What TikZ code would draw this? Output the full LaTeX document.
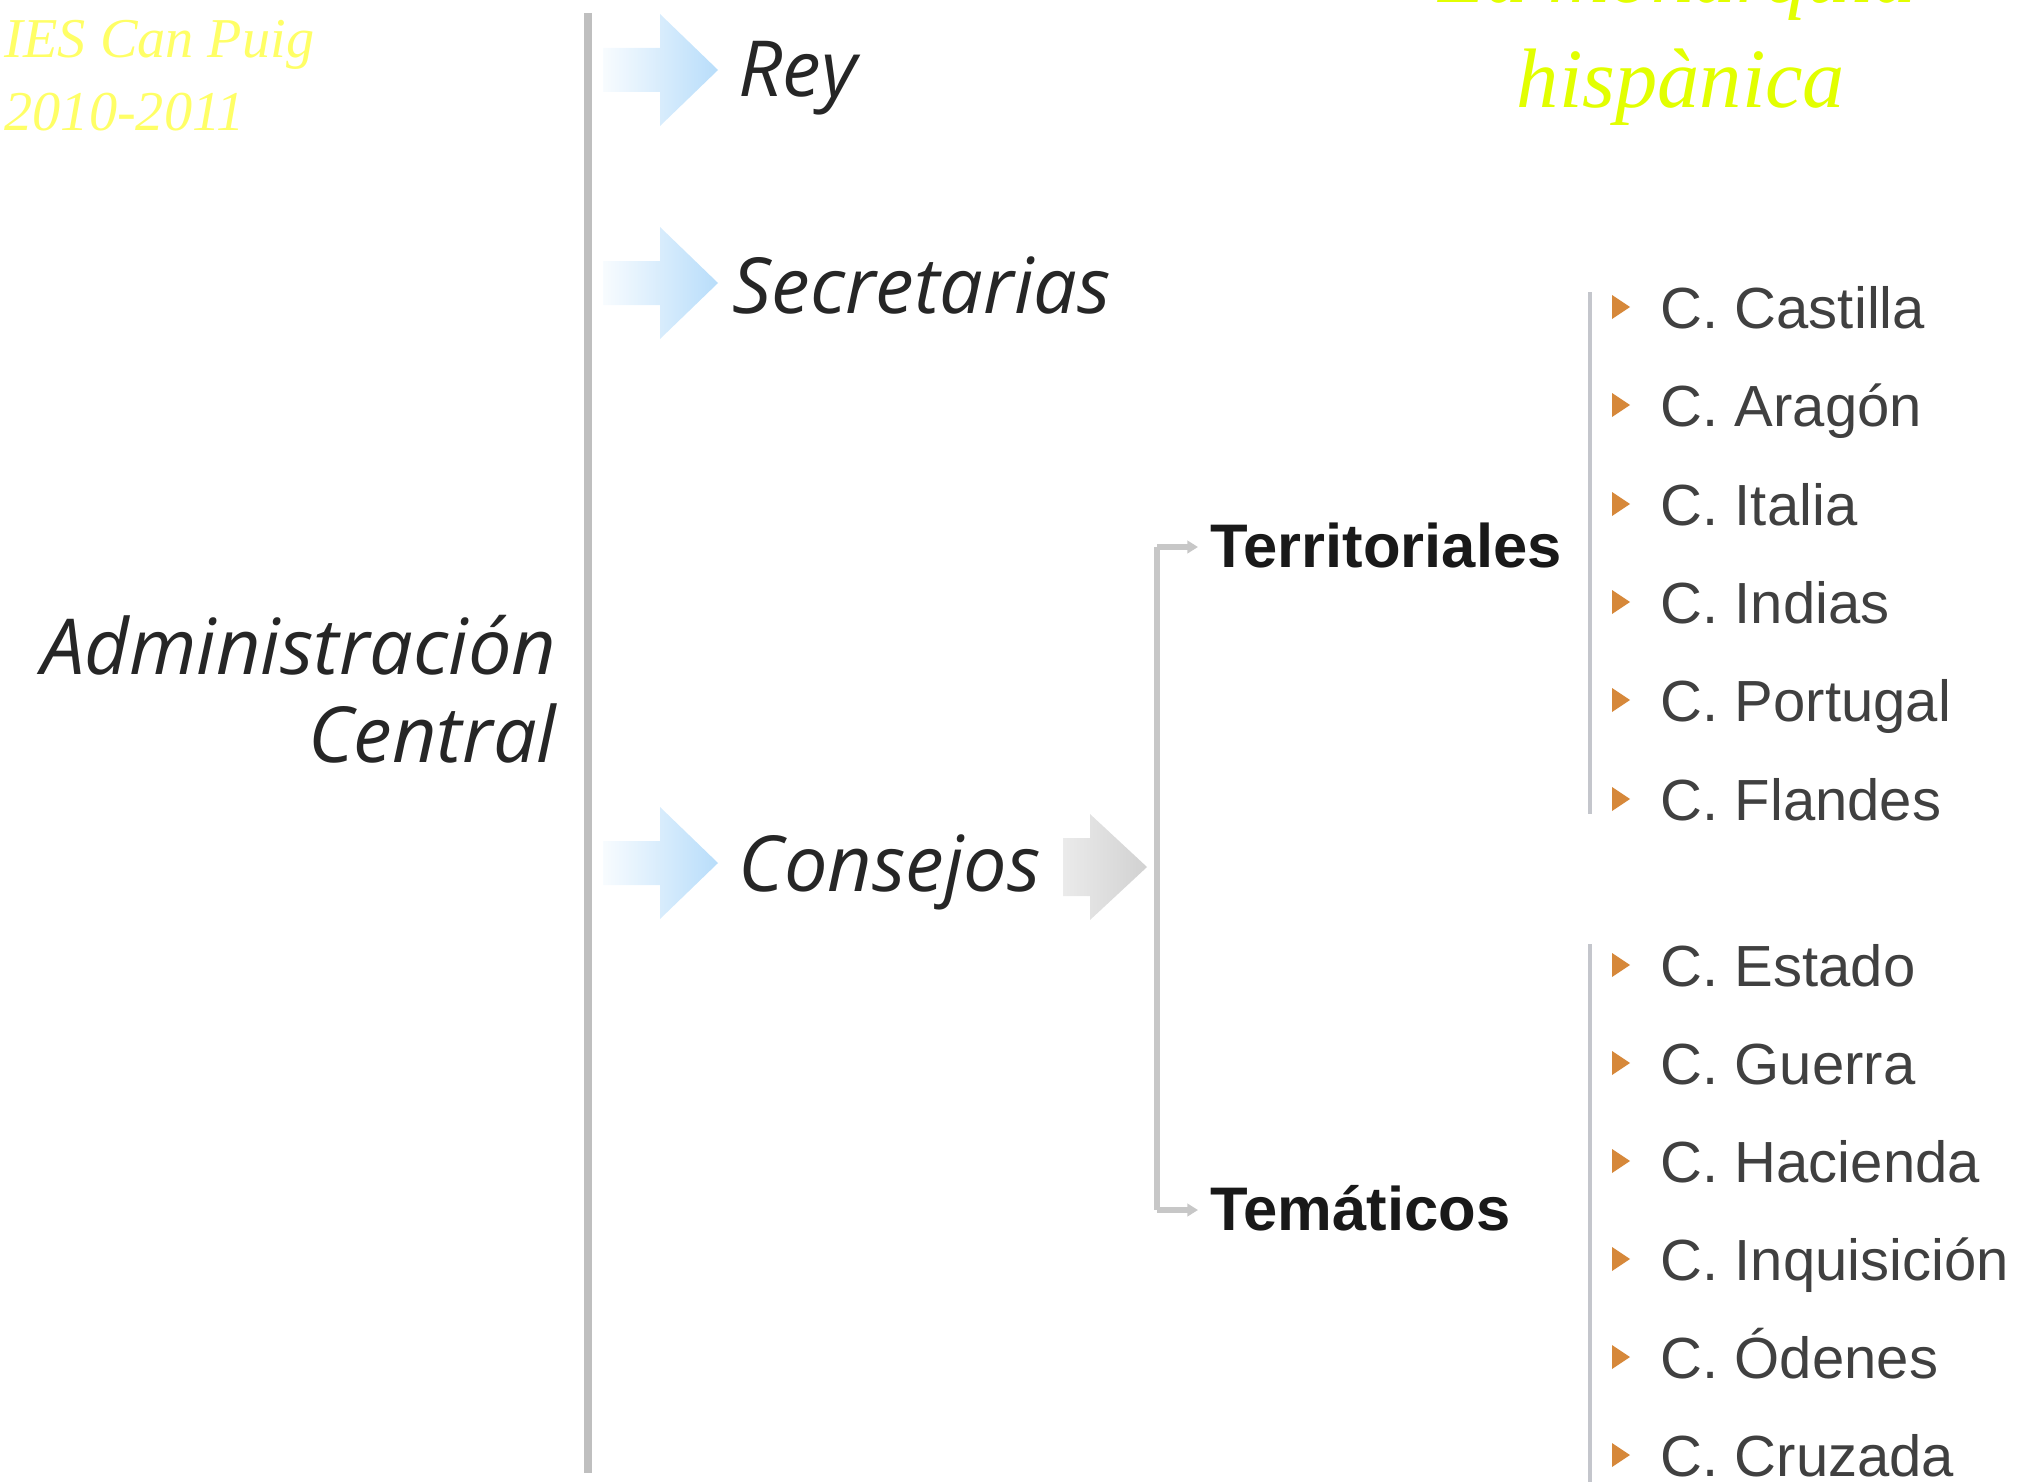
\documentclass[tikz,border=0pt]{standalone}
\usepackage{fontspec}
\setmainfont{Liberation Sans}
\newfontfamily\serifit{Liberation Serif}
\newfontfamily\handit{Open Sans}
\usetikzlibrary{arrows.meta}

\definecolor{iesyellow}{RGB}{255,255,102}
\definecolor{titlegreen}{RGB}{226,255,0}
\definecolor{arrowblue}{RGB}{184,221,250}
\definecolor{bulletorange}{RGB}{214,136,58}
\definecolor{listgray}{RGB}{196,198,204}

\begin{document}
\begin{tikzpicture}[x=0.01cm, y=-0.01cm,
		corner/.style={anchor=base west, inner sep=0pt, text=iesyellow, font=\serifit\itshape\fontsize{16}{20}\selectfont},
		title/.style={anchor=base, inner sep=0pt, text=titlegreen, font=\serifit\itshape\fontsize{24}{30}\selectfont},
		level/.style={inner sep=0pt, text=black!85, font=\handit\itshape\fontsize{22}{26}\selectfont},
		group/.style={anchor=base west, text=black!90, font=\bfseries\fontsize{17.5}{21}\selectfont},
		consejo/.style={anchor=base west, inner sep=0pt, text=black!75, font=\fontsize{16.5}{20}\selectfont},
		bullet/.style={fill=bulletorange},
		blueshade/.style={left color=arrowblue!10, right color=arrowblue},
		grayshade/.style={left color=black!8, right color=black!18},
		mainline/.style={draw=black!25, line width=2pt},
		bracket/.style={draw=black!22, line width=1.6pt},
		listline/.style={draw=listgray, line width=1.2pt}]
		\useasboundingbox (0, 0) rectangle (2031, 1482);

		% corner and title
		\node [corner] (ies) at (4, 58) {IES Can Puig};
		\node [corner] (year) at (4, 131) {2010-2011};
		\node [title] (tit1) at (1677, 3) {La monarquía};
		\node [title] (tit2) at (1681, 108) {hispànica};

		% left side
		\coordinate (top) at (588, 13);
		\coordinate (bottom) at (588, 1473);
		\draw [mainline] (top) -- (bottom);

		\node [level, anchor=base east] (adm1) at (557, 674) {Administración};
		\node [level, anchor=base east] (adm2) at (557, 762) {Central};

		\coordinate (a1) at (603, 70);
		\coordinate (a2) at (603, 283);
		\coordinate (a3) at (603, 863);
		\shade [blueshade] (a1) ++(0, -22) -- ++(57, 0) -- ++(0, -34) -- ++(58, 56) -- ++(-58, 56) -- ++(0, -34) -- ++(-57, 0) -- cycle;
		\shade [blueshade] (a2) ++(0, -22) -- ++(57, 0) -- ++(0, -34) -- ++(58, 56) -- ++(-58, 56) -- ++(0, -34) -- ++(-57, 0) -- cycle;
		\shade [blueshade] (a3) ++(0, -22) -- ++(57, 0) -- ++(0, -34) -- ++(58, 56) -- ++(-58, 56) -- ++(0, -34) -- ++(-57, 0) -- cycle;

		\node [level, anchor=base west] (rey) at (738, 97) {Rey};
		\node [level, anchor=base west] (sec) at (732, 313) {Secretarias};
		\node [level, anchor=base west] (cons) at (738, 891) {Consejos};

		\coordinate (g) at (1063, 867);
		\shade [grayshade] (g) ++(0, -29) -- ++(27, 0) -- ++(0, -24) -- ++(57, 53) -- ++(-57, 53) -- ++(0, -24) -- ++(-27, 0) -- cycle;

		% consejos
		\node [group] (terr) at (1198, 567) {Territoriales};
		\node [group] (tema) at (1198, 1230) {Temáticos};

		\coordinate (b1) at (1157, 547);
		\coordinate (b2) at (1157, 1210);
		\draw [bracket] (b1) -- (b2);
		\draw [bracket, -{Triangle[length=3pt, width=3.5pt]}] (b1) -- (b1 -| terr.west);
		\draw [bracket, -{Triangle[length=3pt, width=3.5pt]}] (b2) -- (b2 -| tema.west);

		\coordinate (l1) at (1590, 292);
		\coordinate (l2) at (1590, 814);
		\coordinate (l3) at (1590, 944);
		\coordinate (l4) at (1590, 1482);
		\draw [listline] (l1) -- (l2);
		\draw [listline] (l3) -- (l4);

		\fill [bullet] (1612, 295) -- (1630, 307) -- (1612, 319) -- cycle;
		\fill [bullet] (1612, 393) -- (1630, 405) -- (1612, 417) -- cycle;
		\fill [bullet] (1612, 492) -- (1630, 504) -- (1612, 516) -- cycle;
		\fill [bullet] (1612, 590) -- (1630, 602) -- (1612, 614) -- cycle;
		\fill [bullet] (1612, 688) -- (1630, 700) -- (1612, 712) -- cycle;
		\fill [bullet] (1612, 787) -- (1630, 799) -- (1612, 811) -- cycle;
		\fill [bullet] (1612, 953) -- (1630, 965) -- (1612, 977) -- cycle;
		\fill [bullet] (1612, 1051) -- (1630, 1063) -- (1612, 1075) -- cycle;
		\fill [bullet] (1612, 1149) -- (1630, 1161) -- (1612, 1173) -- cycle;
		\fill [bullet] (1612, 1247) -- (1630, 1259) -- (1612, 1271) -- cycle;
		\fill [bullet] (1612, 1345) -- (1630, 1357) -- (1612, 1369) -- cycle;
		\fill [bullet] (1612, 1443) -- (1630, 1455) -- (1612, 1467) -- cycle;

		\node [consejo] (c1) at (1660, 328) {C. Castilla};
		\node [consejo] (c2) at (1660, 426) {C. Aragón};
		\node [consejo] (c3) at (1660, 525) {C. Italia};
		\node [consejo] (c4) at (1660, 623) {C. Indias};
		\node [consejo] (c5) at (1660, 721) {C. Portugal};
		\node [consejo] (c6) at (1660, 820) {C. Flandes};
		\node [consejo] (c7) at (1660, 986) {C. Estado};
		\node [consejo] (c8) at (1660, 1084) {C. Guerra};
		\node [consejo] (c9) at (1660, 1182) {C. Hacienda};
		\node [consejo] (c10) at (1660, 1280) {C. Inquisición};
		\node [consejo] (c11) at (1660, 1378) {C. Ódenes};
		\node [consejo] (c12) at (1660, 1476) {C. Cruzada};
	\end{tikzpicture}
\end{document}
